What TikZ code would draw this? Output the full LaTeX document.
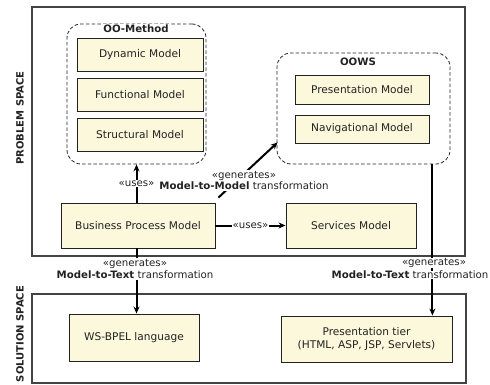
\documentclass[tikz,border=0pt]{standalone}
\usepackage{fontspec}
\setmainfont{DejaVu Sans}
\usetikzlibrary{arrows.meta,calc}
\definecolor{boxfill}{HTML}{FBF8DC}
\definecolor{ink}{HTML}{222222}
\tikzset{
  mbox/.style={draw=ink, line width=0.9pt, fill=boxfill, font=\fontsize{10.6}{12.6}\selectfont, text=ink, align=center, inner sep=0pt},
  grp/.style={draw=black!85, line width=0.8pt, dash pattern=on 3.5pt off 2.2pt, rounded corners=14pt},
  space/.style={draw=ink!85, line width=1.1pt},
  arr/.style={draw=black, line width=2pt, -{Stealth[length=7pt,width=6pt]}},
  lbl/.style={fill=white, inner sep=1pt, font=\fontsize{10.2}{11.8}\selectfont, text=ink, align=center},
  ttl/.style={font=\bfseries\fontsize{10.2}{12}\selectfont, text=ink, inner sep=1pt},
  sidelbl/.style={font=\bfseries\fontsize{10}{12}\selectfont, text=ink, rotate=90}
}
\begin{document}
\begin{tikzpicture}[x=1pt,y=-1pt]
\useasboundingbox (0,0) rectangle (490,385);
% spaces
\draw[space] (32,7) rectangle (465,256);
\draw[space] (32,294) rectangle (466,383);
\node[sidelbl] (ps) at (20,118) {PROBLEM SPACE};
\node[sidelbl] (ss) at (20,334) {SOLUTION SPACE};
% OO-Method group
\node[grp, minimum width=139pt, minimum height=140pt] (oom) at (136.5,94) {};
\node[ttl, fill=white] (oomt) at (136,29) {OO-Method};
\node[mbox, minimum width=126pt, minimum height=33pt] (dyn) at (140,54.5) {Dynamic Model};
\node[mbox, minimum width=126pt, minimum height=33pt] (fun) at (140,94.5) {Functional Model};
\node[mbox, minimum width=126pt, minimum height=33pt] (str) at (140,134.5) {Structural Model};
% OOWS group
\node[grp, minimum width=173pt, minimum height=111pt] (oows) at (363.5,108.5) {};
\node[ttl] (oowst) at (358,62) {OOWS};
\node[mbox, minimum width=134pt, minimum height=29pt] (pres) at (362,89.5) {Presentation Model};
\node[mbox, minimum width=134pt, minimum height=28pt] (nav) at (362,129) {Navigational Model};
% problem models
\node[mbox, minimum width=154pt, minimum height=45pt] (bpm) at (138,225.5) {Business Process Model};
\node[mbox, minimum width=130pt, minimum height=45pt] (svc) at (351,225.5) {Services Model};
% solution
\node[mbox, minimum width=130pt, minimum height=47pt] (bpel) at (134,337.5) {WS-BPEL language};
\node[mbox, minimum width=171pt, minimum height=46pt] (tier) at (366.5,339) {Presentation tier\\(HTML, ASP, JSP, Servlets)};
% connectors
\draw[arr] (bpm.north -| oom.south) -- node[lbl] (u1) {«uses»} (oom.south);
\draw[arr] (bpm.east) -- node[lbl] (u2) {«uses»} (svc.west);
\coordinate (m2ms) at ($(bpm.north east)+(3,-5)$);
\coordinate (m2me) at ($(oows.south west)+(1,-22)$);
\draw[arr] (m2ms) -- (m2me);
\node[lbl] (m2m) at (244,180.5) {«generates»\\\textbf{Model-to-Model} transformation};
\draw[arr] (bpm.south -| oom.south) -- (bpel.north -| oom.south);
\node[lbl] (m2t1) at (135,269) {«generates»\\\textbf{Model-to-Text} transformation};
\coordinate (m2ts) at ($(oows.south east)+(-18,0)$);
\draw[arr] (m2ts) -- (m2ts |- tier.north);
\node[lbl, inner sep=0.5pt] (g2) at (434,263) {«generates»};
\node[lbl, anchor=west, inner sep=0.5pt] (m2t2) at (331,275) {\textbf{Model-to-Text} transformation};
\end{tikzpicture}
\end{document}
